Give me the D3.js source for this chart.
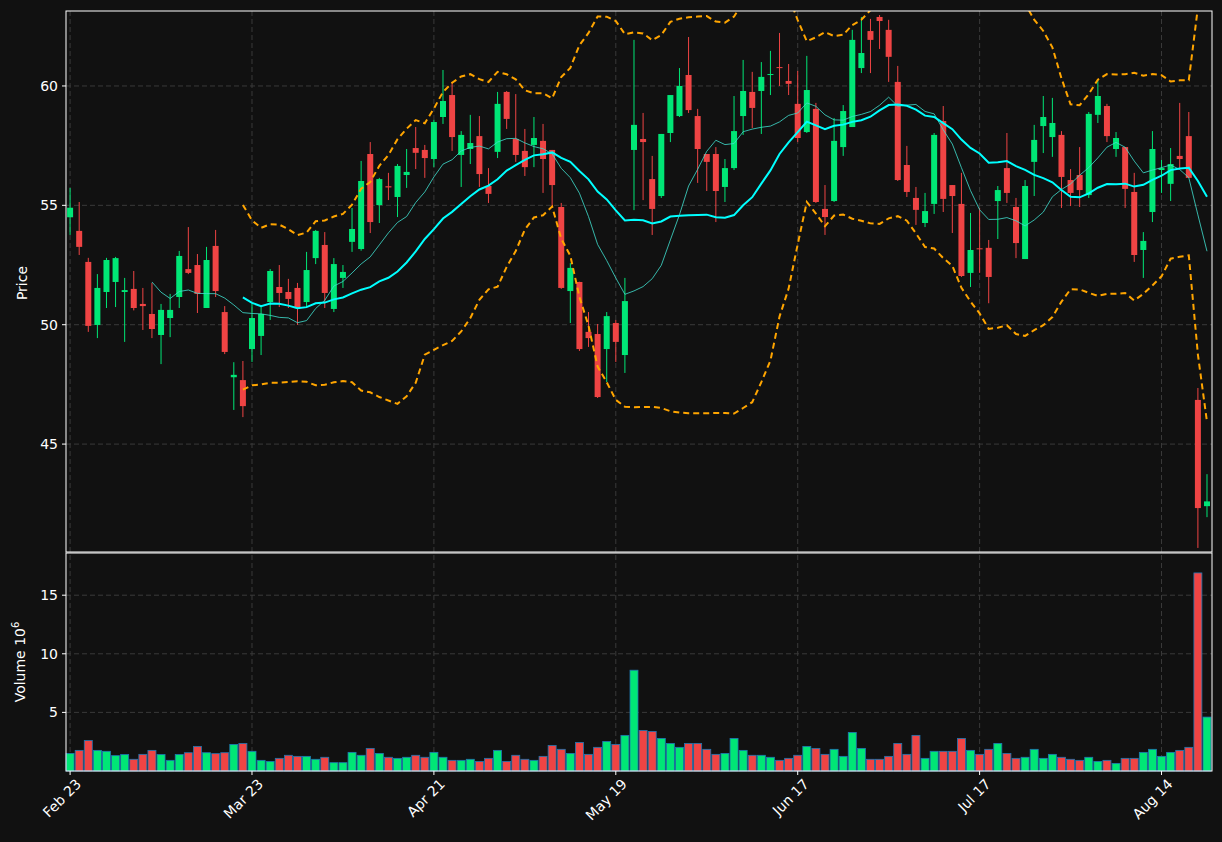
<!DOCTYPE html>
<html><head><meta charset="utf-8">
<script src="https://cdn.jsdelivr.net/npm/d3@7"></script>
<style>body{margin:0;background:#111111;}svg{display:block;}</style>
</head><body><svg id="c" width="1222" height="842"></svg>
<script>
const opens=[54.5,53.93,52.63,49.99,51.37,51.79,51.37,51.5,50.87,50.45,49.57,50.28,51.16,52.33,52.5,50.70,53.30,50.53,47.8,47.68,
48.98,49.53,50.95,51.58,51.37,51.54,50.95,52.79,53.34,50.66,51.96,53.47,53.17,57.15,55.01,55.8,55.35,56.27,57.4,57.32,
56.94,58.7,59.62,57.11,57.36,57.9,55.81,57.24,59.75,57.78,57.28,57.53,57.7,57.32,54.93,51.41,51.79,49.7,49.61,48.98,
50.07,48.73,57.32,57.78,56.1,55.39,58.03,58.74,60.46,58.74,57.15,57.15,55.77,56.56,58.74,59.75,59.79,60.46,60.79,60.21,
59.25,58.07,59.04,54.85,55.18,57.44,58.28,60.75,62.3,62.89,62.35,60.17,56.69,55.31,54.26,55.06,58.53,55.85,55.06,52.17,
53.2,53.22,55.18,56.56,54.93,52.75,56.82,58.32,57.86,57.95,56.06,56.27,55.43,58.79,59.16,57.36,57.44,55.56,53.13,54.72,
56.48,55.9,57.07,57.9,46.85,42.4];
const closes=[54.9,53.26,49.95,51.54,52.71,52.79,51.45,50.7,50.78,49.82,50.62,50.62,52.88,52.17,51.29,52.71,51.41,48.86,47.9,46.59,
50.28,50.45,52.25,51.33,51.08,50.70,52.29,53.93,51.33,52.54,52.21,54.01,56.02,54.3,56.1,55.75,56.65,56.4,57.2,56.98,
58.49,59.37,57.86,57.95,57.61,56.31,55.48,59.25,58.62,57.11,56.6,57.82,56.94,55.85,51.54,52.38,48.98,49.44,46.97,50.36,
49.28,50.99,58.37,57.65,54.85,57.99,59.62,60.0,58.99,57.36,56.82,55.6,56.56,58.11,59.79,59.08,60.38,60.5,60.75,60.09,
57.82,59.83,55.14,54.51,57.7,58.95,61.93,61.38,61.93,62.72,61.22,56.06,55.56,54.81,54.76,57.95,55.27,55.39,52.04,53.13,
53.17,52.0,55.64,55.52,53.42,55.81,57.74,58.7,58.45,56.19,55.52,55.64,58.83,59.58,57.9,57.82,55.69,52.92,53.51,57.36,
56.56,56.73,56.94,56.15,42.32,42.6];
const highs=[55.73,55.14,52.8,52.12,52.8,52.84,51.96,52.25,51.54,51.75,50.87,51.29,53.09,54.09,52.96,53.26,53.97,50.78,48.43,48.48,
50.87,50.83,52.33,52.5,51.92,51.75,53.05,53.97,53.88,52.79,52.5,54.89,56.86,57.65,56.15,56.36,56.73,57.36,58.28,57.53,
58.58,60.67,60.17,58.11,58.79,58.74,56.56,59.75,59.79,59.66,58.2,58.7,58.41,57.32,55.1,52.58,51.8,50.53,50.03,50.53,
50.2,51.96,61.93,58.87,57.07,57.99,59.62,60.75,62.05,59.04,57.15,57.44,56.94,59.58,61.09,60.59,61.0,61.47,62.22,60.92,
60.63,61.26,59.29,55.85,58.66,59.2,62.35,62.89,62.81,62.97,62.77,60.84,57.49,55.77,55.52,58.03,59.16,55.85,56.36,54.68,
54.89,53.55,55.81,58.03,55.31,56.06,58.37,59.58,59.5,58.11,56.52,57.44,58.91,60.29,59.25,58.07,57.44,56.36,53.88,58.11,
56.9,57.4,59.29,58.91,47.35,43.74];
const lows=[53.76,52.92,49.7,49.44,50.7,50.74,49.28,50.6,49.78,49.44,48.35,49.48,50.7,52.12,50.49,50.7,51.16,48.77,46.43,46.13,
48.44,48.73,50.2,50.74,50.7,49.99,50.74,52.54,50.7,50.53,51.54,53.05,53.1,53.84,54.26,55.22,54.51,55.73,56.52,56.15,
56.6,58.41,57.28,55.77,56.73,55.77,55.1,56.98,58.2,56.82,56.23,56.6,55.52,54.93,51.5,50.07,48.9,49.07,46.93,47.6,
48.44,47.98,54.8,55.22,53.76,55.31,57.65,58.7,58.87,55.94,55.6,54.3,55.14,56.48,57.95,58.24,57.99,59.62,60.0,59.62,
57.65,58.03,55.1,53.76,55.14,57.07,58.28,60.54,60.54,61.55,60.17,56.02,55.35,54.18,54.09,54.64,54.72,53.84,52.0,51.58,
52.17,50.9,53.59,55.1,52.79,52.75,55.39,57.19,57.03,54.89,54.97,54.93,55.31,58.45,57.65,57.03,54.89,52.63,51.96,54.3,
55.52,55.18,56.56,56.15,40.65,41.94];
const volumes=[1.5,1.76,2.6,1.76,1.68,1.31,1.4,1.0,1.42,1.76,1.4,0.91,1.4,1.56,2.1,1.56,1.48,1.56,2.27,2.35,
1.68,0.91,0.82,1.08,1.34,1.25,1.25,1.0,1.17,0.71,0.71,1.59,1.34,1.93,1.5,1.17,1.08,1.17,1.34,1.17,
1.59,1.17,0.91,0.91,1.0,0.82,1.08,1.76,0.82,1.34,1.0,0.91,1.25,2.18,1.85,1.5,2.44,1.42,2.02,2.52,
2.27,3.04,8.6,3.46,3.38,2.78,2.35,2.02,2.35,2.35,1.85,1.42,1.5,2.78,1.76,1.34,1.34,1.17,0.91,1.08,
1.34,2.1,1.93,1.42,1.85,1.25,3.29,1.93,1.0,1.0,1.25,2.35,1.42,3.04,1.08,1.68,1.68,1.68,2.78,1.76,
1.42,1.85,2.35,1.5,1.08,1.17,1.85,1.08,1.42,1.17,1.0,0.91,1.17,0.82,0.91,0.65,1.08,1.08,1.59,1.85,
1.25,1.59,1.76,2.02,16.9,4.6];
const tickIdx=[0,20,40,60,80,100,120];
const tickLabels=["Feb 23","Mar 23","Apr 21","May 19","Jun 17","Jul 17","Aug 14"];
const priceTicks=[45,50,55,60];
const volTicks=[5,10,15];

const svg=d3.select("#c");
const L=66,R=1212,PT=11,PB=552,VT=553,VB=771;
const GREEN="#00e676",RED="#ef4444";
const n=closes.length;
const x=d3.scaleLinear().domain([-0.45,n-0.45]).range([L,R]);
const y=d3.scaleLinear().domain([40.48,63.14]).range([PB,PT]);
const yv=d3.scaleLinear().domain([0,18.6]).range([VB,VT]);
const font="DejaVu Sans, sans-serif";

function sma(p){return closes.map((c,i)=>i<p-1?null:d3.mean(closes.slice(i-p+1,i+1)));}
const ma10=sma(10),ma20=sma(20);
const up=closes.map((c,i)=>i<19?null:ma20[i]+2*d3.deviation(closes.slice(i-19,i+1)));
const lo=closes.map((c,i)=>i<19?null:ma20[i]-2*d3.deviation(closes.slice(i-19,i+1)));

const g=svg.append("g");
function grid(ys,sc){ys.forEach(v=>g.append("line").attr("x1",L).attr("x2",R).attr("y1",sc(v)).attr("y2",sc(v)).attr("stroke","#3a3a3a").attr("stroke-dasharray","5,3"));}
grid(priceTicks,y);grid(volTicks,yv);
tickIdx.forEach(i=>{g.append("line").attr("x1",x(i)).attr("x2",x(i)).attr("y1",PT).attr("y2",VB).attr("stroke","#3a3a3a").attr("stroke-dasharray","5,3");});

svg.append("clipPath").attr("id","cp").append("rect").attr("x",L).attr("y",PT).attr("width",R-L).attr("height",PB-PT);
const pg=svg.append("g").attr("clip-path","url(#cp)");
const col=i=>closes[i]>=opens[i]?GREEN:RED;
d3.range(n).forEach(i=>{
  pg.append("line").attr("x1",x(i)).attr("x2",x(i)).attr("y1",y(highs[i])).attr("y2",y(lows[i])).attr("stroke",col(i)).attr("stroke-width",1);
  const t=y(Math.max(opens[i],closes[i])),b=y(Math.min(opens[i],closes[i]));
  pg.append("rect").attr("x",x(i)-3).attr("width",6).attr("y",t).attr("height",Math.max(1,b-t)).attr("fill",col(i));
});
const line=d3.line().defined(d=>d!=null).x((d,i)=>x(i)).y(d=>y(d));
pg.append("path").datum(ma10).attr("d",line).attr("fill","none").attr("stroke","#40e0d0").attr("stroke-opacity",0.8).attr("stroke-width",1);
pg.append("path").datum(ma20).attr("d",line).attr("fill","none").attr("stroke","#00ffff").attr("stroke-width",2);
[up,lo].forEach(s=>pg.append("path").datum(s).attr("d",line).attr("fill","none").attr("stroke","#ffa500").attr("stroke-width",2).attr("stroke-dasharray","6,4"));

d3.range(n).forEach(i=>{
  svg.append("rect").attr("x",x(i)-4).attr("width",8).attr("y",yv(volumes[i])).attr("height",yv(0)-yv(volumes[i])).attr("fill",col(i)).attr("stroke","#1f77b4").attr("stroke-width",0.8);
});

[[PT,PB],[VT,VB]].forEach(([a,b])=>svg.append("rect").attr("x",L).attr("y",a).attr("width",R-L).attr("height",b-a).attr("fill","none").attr("stroke","#fff").attr("stroke-width",1));

priceTicks.forEach(v=>{svg.append("line").attr("x1",L-4).attr("x2",L).attr("y1",y(v)).attr("y2",y(v)).attr("stroke","#fff");
 svg.append("text").attr("x",L-8).attr("y",y(v)).attr("dy","0.35em").attr("text-anchor","end").attr("fill","#fff").attr("font-size",14).attr("font-family",font).text(v);});
volTicks.forEach(v=>{svg.append("line").attr("x1",L-4).attr("x2",L).attr("y1",yv(v)).attr("y2",yv(v)).attr("stroke","#fff");
 svg.append("text").attr("x",L-8).attr("y",yv(v)).attr("dy","0.35em").attr("text-anchor","end").attr("fill","#fff").attr("font-size",14).attr("font-family",font).text(v);});
tickIdx.forEach((t,k)=>{svg.append("line").attr("x1",x(t)).attr("x2",x(t)).attr("y1",VB).attr("y2",VB+4).attr("stroke","#fff");
 svg.append("text").attr("transform",`translate(${x(t)+12},${VB+14}) rotate(-45)`).attr("text-anchor","end").attr("fill","#fff").attr("font-size",14).attr("font-family",font).text(tickLabels[k]);});
svg.append("text").attr("transform",`translate(27,283) rotate(-90)`).attr("text-anchor","middle").attr("fill","#fff").attr("font-size",14).attr("font-family",font).text("Price");
const vl=svg.append("text").attr("transform",`translate(25,662) rotate(-90)`).attr("text-anchor","middle").attr("fill","#fff").attr("font-size",14).attr("font-family",font);
vl.append("tspan").text("Volume  10");vl.append("tspan").attr("dy",-6).attr("font-size",10).text("6");
</script></body></html>
